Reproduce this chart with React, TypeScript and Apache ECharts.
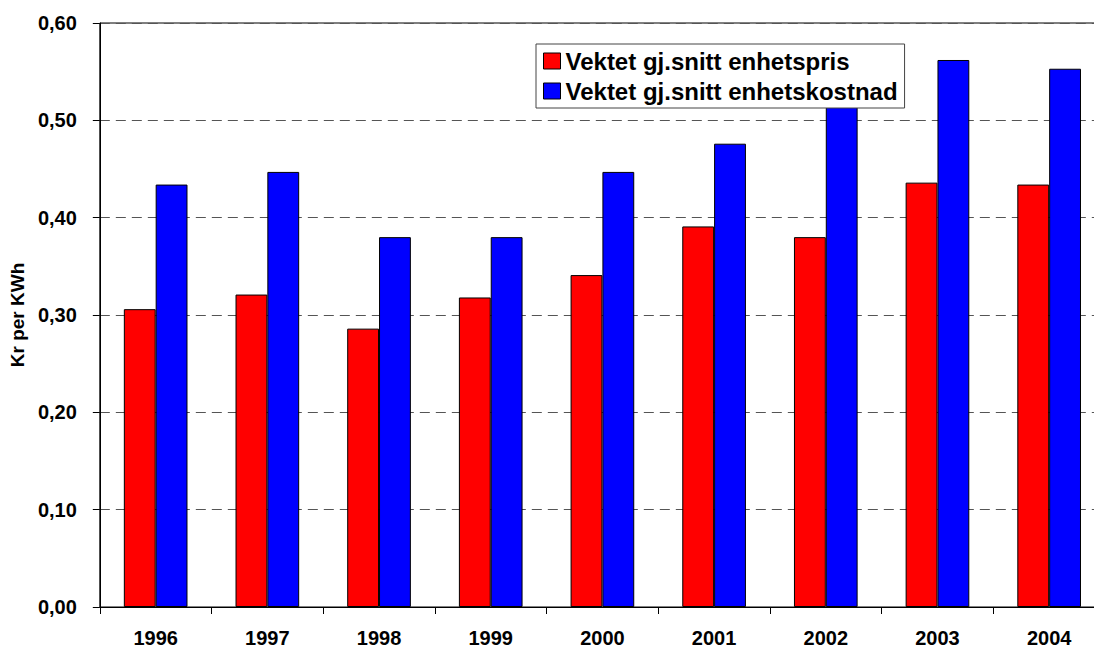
import React, { useEffect, useRef } from "react";
import * as echarts from "echarts";

const years = ["1996", "1997", "1998", "1999", "2000", "2001", "2002", "2003", "2004"];
const enhetspris = [0.306, 0.321, 0.286, 0.318, 0.341, 0.391, 0.380, 0.436, 0.434];
const enhetskostnad = [0.434, 0.447, 0.380, 0.380, 0.447, 0.476, 0.520, 0.562, 0.553];
const seriesNames = ["Vektet gj.snitt enhetspris", "Vektet gj.snitt enhetskostnad"];
const yTitle = "Kr per KWh";

const FONT = "'Liberation Sans', Arial, sans-serif";

export default function App() {
  const ref = useRef<HTMLDivElement>(null);
  useEffect(() => {
    if (!ref.current) return;
    const chart = echarts.init(ref.current, undefined, { renderer: "svg" });
    chart.setOption({
      animation: false,
      backgroundColor: "#ffffff",
      textStyle: { fontFamily: FONT },
      grid: {
        left: 97,
        top: 23,
        width: 1008,
        height: 584,
        show: true,
        borderColor: "#000",
        borderWidth: 1,
        backgroundColor: "transparent",
      },
      legend: {
        orient: "vertical",
        left: 536,
        top: 44,
        padding: [5, 7, 5, 7],
        itemGap: 6,
        itemWidth: 17,
        itemHeight: 16,
        itemStyle: { borderColor: "#000", borderWidth: 1 },
        backgroundColor: "#fff",
        borderColor: "#444",
        borderWidth: 1,
        textStyle: { fontSize: 24, fontWeight: "bold", color: "#000", fontFamily: FONT },
        data: seriesNames.map((n) => ({ name: n, icon: "rect" })),
      },
      xAxis: {
        type: "category",
        data: years,
        axisLine: { lineStyle: { color: "#000", width: 1 } },
        axisTick: { show: true, length: 7, lineStyle: { color: "#000" } },
        axisLabel: { fontSize: 20, fontWeight: "bold", color: "#000", margin: 21, fontFamily: FONT },
        splitLine: { show: false },
      },
      yAxis: {
        type: "value",
        min: 0,
        max: 0.6,
        interval: 0.1,
        name: yTitle,
        nameLocation: "middle",
        nameGap: 70,
        nameTextStyle: { fontSize: 19, fontWeight: "bold", color: "#000", fontFamily: FONT },
        axisLine: { show: true, lineStyle: { color: "#000", width: 1 } },
        axisTick: { show: true, length: 7, lineStyle: { color: "#000" } },
        axisLabel: {
          fontSize: 20,
          fontWeight: "bold",
          color: "#000",
          margin: 23,
          fontFamily: FONT,
          formatter: (v: number) => v.toFixed(2).replace(".", ","),
        },
        splitLine: { show: true, lineStyle: { color: "#555", type: [10, 6], width: 1 } },
      },
      series: [
        {
          name: seriesNames[0],
          type: "bar",
          data: enhetspris,
          barGap: "0%",
          barCategoryGap: "43%",
          itemStyle: { color: "#ff0000", borderColor: "#000", borderWidth: 1 },
        },
        {
          name: seriesNames[1],
          type: "bar",
          data: enhetskostnad,
          barGap: "0%",
          barCategoryGap: "43%",
          itemStyle: { color: "#0000ff", borderColor: "#000", borderWidth: 1 },
        },
      ],
    });
    return () => chart.dispose();
  }, []);
  return (
    <div
      style={{
        position: "fixed",
        left: 0,
        top: 0,
        width: 1094,
        height: 648,
        overflow: "hidden",
        background: "#fff",
      }}
    >
      <div ref={ref} style={{ width: 1110, height: 648 }} />
    </div>
  );
}
